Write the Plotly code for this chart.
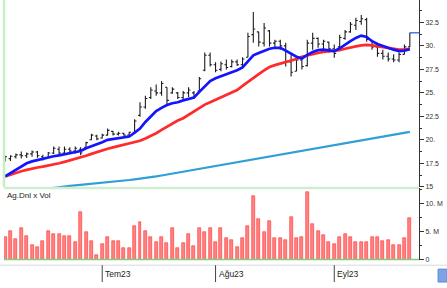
import plotly.graph_objects as go

day_index = list(range(76))

open_ = [17.9, 18.0, 18.2, 18.4, 18.3, 18.5, 18.7, 18.2, 18.1, 18.6,
         19.0, 18.6, 19.0, 18.8, 19.0, 19.2, 20.0, 20.4, 20.2, 20.5,
         20.9, 20.6, 20.7, 20.5, 20.8, 22.6, 23.5, 24.5, 25.2, 25.0,
         25.6, 25.0, 25.0, 24.5, 25.0, 25.0, 25.2, 27.4, 29.0, 28.0,
         27.5, 28.0, 27.8, 28.3, 28.0, 28.8, 31.2, 31.5, 30.3, 31.6,
         30.3, 30.5, 30.0, 28.3, 27.3, 28.5, 27.9, 30.3, 30.8, 30.2,
         30.4, 29.7, 29.9, 30.8, 31.5, 32.2, 32.6, 32.8, 30.6, 29.9,
         29.2, 28.9, 28.6, 28.5, 29.1, 29.9]
high = [18.3, 18.35, 18.55, 18.75, 18.65, 18.85, 18.8, 18.4, 18.7, 19.3,
        19.3, 19.3, 19.2, 19.3, 19.2, 19.8, 20.65, 20.55, 20.65, 21.2,
        20.95, 20.85, 20.75, 20.85, 22.2, 24.0, 24.7, 25.6, 25.9, 26.25,
        25.6, 25.6, 25.1, 25.2, 25.6, 25.2, 26.7, 29.3, 29.3, 28.25,
        28.35, 28.55, 28.55, 28.55, 28.8, 31.4, 33.6, 31.5, 32.45, 31.7,
        30.65, 30.65, 30.35, 29.1, 28.9, 28.8, 30.65, 31.4, 30.9, 30.65,
        30.45, 30.15, 31.2, 31.7, 32.55, 33.0, 33.3, 33.0, 30.65, 30.35,
        29.6, 29.3, 29.1, 29.3, 30.15, 31.4]
low = [17.7, 17.75, 18.0, 18.0, 18.05, 18.2, 18.1, 17.8, 18.1, 18.5,
       18.3, 18.5, 18.55, 18.55, 18.35, 19.1, 19.95, 19.95, 20.13, 20.45,
       20.45, 20.45, 20.45, 20.45, 20.65, 22.45, 23.3, 24.35, 24.7, 24.7,
       23.8, 24.9, 24.35, 24.35, 24.55, 24.35, 25.1, 27.3, 27.8, 27.2,
       27.3, 27.5, 27.7, 27.85, 27.7, 28.8, 30.35, 29.95, 29.95, 29.95,
       29.85, 29.6, 27.8, 26.75, 27.3, 27.5, 27.8, 29.6, 29.8, 29.6,
       29.3, 28.75, 29.85, 30.65, 31.4, 31.7, 32.25, 30.45, 29.6, 28.85,
       28.55, 28.35, 28.25, 28.25, 29.1, 29.85]
close = [18.2, 18.25, 18.4, 18.3, 18.5, 18.7, 18.3, 18.0, 18.6, 19.1,
         18.6, 19.0, 18.8, 19.1, 18.6, 19.7, 20.5, 20.1, 20.5, 21.0,
         20.6, 20.7, 20.5, 20.8, 22.0, 23.5, 24.4, 25.3, 25.0, 26.0,
         24.2, 25.4, 24.5, 25.0, 25.3, 24.6, 26.5, 29.0, 28.0, 27.4,
         28.1, 27.7, 28.3, 28.0, 28.6, 31.0, 31.8, 30.4, 31.9, 30.3,
         30.5, 30.0, 28.3, 27.2, 28.5, 27.8, 30.3, 30.8, 30.2, 30.5,
         29.7, 29.2, 30.9, 31.5, 32.3, 32.7, 32.9, 30.7, 29.9, 29.2,
         28.9, 28.6, 28.5, 29.1, 29.9, 31.4]

ma_short = [16.1, 16.45, 16.85, 17.2, 17.5, 17.7, 17.85, 18.0, 18.1, 18.25,
            18.35, 18.45, 18.55, 18.65, 18.8, 19.1, 19.3, 19.55, 19.75, 20.0,
            20.1, 20.15, 20.25, 20.35, 20.75, 21.2, 21.9, 22.45, 23.05, 23.4,
            23.7, 23.9, 24.0, 24.2, 24.35, 24.5, 25.1, 25.7, 26.25, 26.55,
            26.75, 27.0, 27.15, 27.4, 27.7, 28.35, 29.0, 29.25, 29.5, 29.7,
            29.8, 29.8, 29.5, 29.15, 28.85, 28.65, 29.05, 29.35, 29.55, 29.6,
            29.55, 29.45, 29.75, 30.15, 30.5, 30.85, 31.1, 30.95, 30.5, 30.2,
            30.0, 29.75, 29.6, 29.45, 29.5, 29.65]
ma_mid = [16.1, 16.3, 16.5, 16.65, 16.8, 16.95, 17.05, 17.15, 17.25, 17.4,
          17.5, 17.65, 17.8, 17.95, 18.1, 18.3, 18.5, 18.7, 18.9, 19.05,
          19.2, 19.35, 19.45, 19.6, 19.75, 19.9, 20.15, 20.4, 20.7, 21.05,
          21.4, 21.75, 22.05, 22.3, 22.65, 23.0, 23.4, 23.75, 24.0, 24.25,
          24.5, 24.75, 25.0, 25.3, 25.75, 26.2, 26.6, 27.0, 27.4, 27.75,
          27.95, 28.1, 28.25, 28.4, 28.6, 28.85, 29.0, 29.15, 29.25, 29.35,
          29.4, 29.45, 29.55, 29.7, 29.85, 29.95, 30.05, 30.1, 30.05, 29.95,
          29.85, 29.75, 29.65, 29.6, 29.6, 29.7]
ma_long = [14.2, 14.28, 14.36, 14.44, 14.52, 14.6, 14.68, 14.76, 14.84, 14.9,
           14.97, 15.04, 15.1, 15.15, 15.2, 15.25, 15.3, 15.36, 15.42, 15.48,
           15.54, 15.6, 15.66, 15.72, 15.79, 15.85, 15.93, 16.0, 16.1, 16.2,
           16.3, 16.4, 16.5, 16.6, 16.7, 16.8, 16.9, 17.0, 17.1, 17.2,
           17.32, 17.44, 17.55, 17.66, 17.77, 17.85, 17.95, 18.05, 18.15, 18.25,
           18.35, 18.45, 18.55, 18.65, 18.75, 18.85, 18.95, 19.05, 19.15, 19.25,
           19.35, 19.45, 19.55, 19.65, 19.75, 19.85, 19.95, 20.05, 20.15, 20.25,
           20.35, 20.45, 20.55, 20.65, 20.75, 20.85]

volume_m = [4.0, 5.2, 3.7, 5.6, 4.3, 2.6, 2.2, 3.4, 5.1, 4.6,
            4.5, 4.2, 4.2, 3.2, 8.6, 5.0, 3.4, 0.8, 2.8, 4.0,
            3.4, 3.4, 2.0, 2.0, 6.1, 6.7, 5.2,
            4.0, 3.1, 4.0, 3.0, 5.6, 2.0, 3.0, 4.6, 2.5, 5.6,
            4.9, 5.6, 3.1, 5.6, 3.8, 3.6, 2.3, 3.8, 6.1, 11.4,
            7.3, 5.0, 7.0, 3.8, 3.8, 3.6, 7.7, 3.8,
            4.0, 12.1, 6.4, 5.2, 4.4, 3.2, 2.8, 4.0, 4.6, 4.0,
            3.1, 3.1, 3.1, 4.1, 4.1, 3.4, 3.5, 2.6, 2.6, 3.8, 7.4]

month_tick_index = [18, 39, 61]
month_labels = ["Tem23", "Ağu23", "Eyl23"]

price_ticks = [15, 17.5, 20, 22.5, 25, 27.5, 30, 32.5]
price_tick_labels = ["15", "17.5", "20.", "22.5", "25.", "27.5", "30.", "32.5"]
price_minor = [16.25, 18.75, 21.25, 23.75, 26.25, 28.75, 31.25, 33.75]
vol_ticks = [0, 5, 10]
vol_tick_labels = ["0", "5. M", "10. M"]
vol_minor = [2.5, 7.5, 12.5]

x_range = [-0.2, 76.7]
FONT = "Liberation Sans"

fig = go.Figure()

fig.add_trace(go.Ohlc(
    x=day_index, open=open_, high=high, low=low, close=close,
    increasing=dict(line=dict(color="#1e1e1e", width=1.1)),
    decreasing=dict(line=dict(color="#1e1e1e", width=1.1)),
    tickwidth=0.35, xaxis="x", yaxis="y", hoverinfo="skip"))

fig.add_trace(go.Scatter(x=day_index, y=ma_long, mode="lines",
                         line=dict(color="#2f9fd6", width=2.2), xaxis="x", yaxis="y",
                         hoverinfo="skip"))
fig.add_trace(go.Scatter(x=day_index, y=ma_mid, mode="lines",
                         line=dict(color="#ff2b2b", width=2.7), xaxis="x", yaxis="y",
                         hoverinfo="skip"))
fig.add_trace(go.Scatter(x=day_index, y=ma_short, mode="lines",
                         line=dict(color="#1414ff", width=2.7), xaxis="x", yaxis="y",
                         hoverinfo="skip"))
fig.add_trace(go.Scatter(x=[day_index[-1], x_range[1]], y=[close[-1], close[-1]], mode="lines",
                         line=dict(color="#4a7cf0", width=1.5), xaxis="x", yaxis="y",
                         hoverinfo="skip"))

fig.add_trace(go.Bar(x=day_index, y=volume_m, width=0.55,
                     marker=dict(color="#ff8282", line=dict(color="#ff3030", width=0.6)),
                     xaxis="x2", yaxis="y2", hoverinfo="skip"))

main_bottom = 1 - 189 / 288
vol_top = 1 - 190 / 288
vol_bottom = 1 - 262.3 / 288

axis_common = dict(side="right", showgrid=False, zeroline=False, ticks="outside", ticklen=4,
                   tickcolor="#333", showline=True, linecolor="#333", linewidth=1,
                   tickmode="array", tickfont=dict(family=FONT, size=7, color="#333"))

fig.update_layout(
    width=447, height=288,
    margin=dict(l=4, r=28, t=0, b=0),
    paper_bgcolor="white", plot_bgcolor="white",
    showlegend=False, bargap=0,
    xaxis=dict(domain=[0, 1], range=x_range, anchor="y", showticklabels=False, showgrid=False,
               zeroline=False, rangeslider=dict(visible=False)),
    xaxis2=dict(domain=[0, 1], range=x_range, anchor="y2", showticklabels=False, showgrid=False,
                zeroline=False, matches="x"),
    yaxis=dict(domain=[main_bottom, 1], range=[14.97, 34.89], tickvals=price_ticks,
               ticktext=price_tick_labels,
               minor=dict(tickmode="array", tickvals=price_minor, ticklen=2, ticks="outside",
                          tickcolor="#333"),
               **axis_common),
    yaxis2=dict(domain=[vol_bottom, vol_top], range=[0, 12.85], tickvals=vol_ticks,
                ticktext=vol_tick_labels,
                minor=dict(tickmode="array", tickvals=vol_minor, ticklen=2, ticks="outside",
                           tickcolor="#333"),
                **axis_common),
)

shapes = [
    dict(type="line", xref="paper", yref="paper", x0=0, x1=0, y0=main_bottom, y1=1,
         line=dict(color="#c4f0c4", width=2.5)),
    dict(type="line", xref="paper", yref="paper", x0=0, x1=1, y0=vol_top, y1=vol_top,
         line=dict(color="#d2ecd2", width=2.5)),
    dict(type="line", xref="paper", yref="paper", x0=0, x1=1, y0=vol_bottom, y1=vol_bottom,
         line=dict(color="#7fcc7f", width=1.5)),
    dict(type="line", xref="paper", yref="paper", x0=-0.01, x1=1.068, y0=1 - 268 / 288,
         y1=1 - 268 / 288, line=dict(color="#dadada", width=1)),
    dict(type="rect", xref="paper", yref="paper", x0=1.046, x1=1.068, y0=1 - 285 / 288,
         y1=1 - 272 / 288, fillcolor="#7aa4e6", line=dict(color="#5a86d0", width=1)),
]
annotations = [
    dict(text="Ag.Dnl x Vol", xref="paper", yref="paper", x=0, y=1 - 198 / 288,
         xanchor="left", yanchor="middle", xshift=1, showarrow=False,
         font=dict(family=FONT, size=8, color="#222")),
]
for idx, lab in zip(month_tick_index, month_labels):
    shapes.append(dict(type="line", xref="x2", yref="paper", x0=idx, x1=idx,
                       y0=1 - 285 / 288, y1=1 - 268 / 288, line=dict(color="#444", width=1)))
    annotations.append(dict(text=lab, xref="x2", yref="paper", x=idx, y=1 - 277 / 288,
                            xanchor="left", yanchor="middle", xshift=1, showarrow=False,
                            font=dict(family=FONT, size=8.5, color="#222")))

fig.update_layout(shapes=shapes, annotations=annotations)

fig.write_html("out.html", config={"displayModeBar": False},
               post_script="document.body.style.margin='0px';")
